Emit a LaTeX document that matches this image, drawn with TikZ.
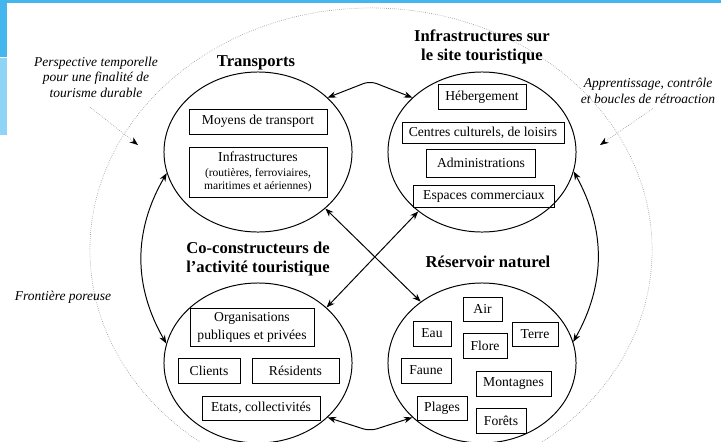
\documentclass[tikz,border=0pt]{standalone}
\usepackage{fontspec}
\setmainfont{Liberation Serif}[Ligatures=TeX]
\newfontfamily\timesfont{Liberation Serif}[Ligatures=TeX]
\usetikzlibrary{shapes.geometric,arrows.meta}
\definecolor{slideblue}{HTML}{45B5EE}
\definecolor{slidelight}{HTML}{8FD3F6}
\tikzset{
  every node/.style={font=\timesfont},
  zone/.style={draw, ellipse, line width=0.7pt, minimum width=4.7cm, minimum height=4cm},
  box/.style 2 args={draw, line width=0.6pt, minimum width=#1cm, minimum height=#2cm, inner sep=1pt, align=center, font=\timesfont\fontsize{9.7}{12.8}\selectfont},
  title/.style={align=center, font=\timesfont\fontsize{11.8}{13}\selectfont\bfseries},
  remark/.style={align=center, font=\timesfont\fontsize{9.6}{11}\selectfont\itshape},
  link/.style={{Stealth[length=6pt,width=4.5pt]}-{Stealth[length=6pt,width=4.5pt]}, line width=0.7pt},
  pointer/.style={-{Stealth[length=6pt,width=4.5pt,color=black]}, gray, densely dotted}
}
\begin{document}
\begin{tikzpicture}[x=0.025cm,y=-0.025cm]
\useasboundingbox (0,0) rectangle (721,441);
\fill[white] (0,0) rectangle (721,441);
\fill[slideblue] (0,0) rectangle (721,3);
\fill[slideblue] (0,0) rectangle (7,57);
\fill[slidelight] (0,58) rectangle (7,135);
% outer border
\node[draw, ellipse, gray, densely dotted, minimum width=14.05cm, minimum height=12.1cm] (frontier) at (371,250) {};
% four zones
\node[zone] (tr) at (258,152) {};
\node[zone] (inf) at (482,152) {};
\node[zone] (co) at (258,363) {};
\node[zone] (res) at (482,363) {};
\node[title] (ttr) at (256,63) {Transports};
\node[title] (tinf) at (482,47) {Infrastructures sur\\le site touristique};
\node[title] (tco) at (258,259) {Co-constructeurs de\\l’activité touristique};
\node[title] (tres) at (488,262) {Réservoir naturel};
% boxes
\node[box={3.45}{0.625}] (mdt) at (258,121.5) {Moyens de transport};
\node[box={3.45}{1.25}] (infra) at (258,172) {Infrastructures\\[-2pt]\fontsize{8.2}{9.5}\selectfont(routières, ferroviaires,\\[-3.5pt]\fontsize{8.2}{9.5}\selectfont maritimes et aériennes)};
\node[box={2.2}{0.625}] (heb) at (482,97) {Hébergement};
\node[box={4.05}{0.525}] (ccl) at (483,133) {Centres culturels, de loisirs};
\node[box={2.725}{0.7}] (adm) at (481,163) {Administrations};
\node[box={3.525}{0.55}] (esp) at (484,196) {Espaces commerciaux};
\node[box={3.1}{0.95}] (org) at (252,327) {Organisations\\publiques et privées};
\node[box={1.55}{0.625}] (cli) at (209,370.5) {Clients};
\node[box={2.175}{0.625}] (resid) at (295.5,370.5) {Résidents};
\node[box={2.95}{0.6}] (eta) at (261,408) {Etats, collectivités};
\node[box={0.975}{0.6}] (air) at (482.5,309) {Air};
\node[box={0.95}{0.625}] (eau) at (432,333.5) {Eau};
\node[box={1.15}{0.6}] (terre) at (535,334) {Terre};
\node[box={1.1}{0.625}] (flore) at (485,345.5) {Flore};
\node[box={1.25}{0.625}] (faune) at (426,370.5) {Faune};
\node[box={1.875}{0.625}] (mont) at (513.5,383.5) {Montagnes};
\node[box={1.25}{0.6}] (plages) at (442,408) {Plages};
\node[box={1.25}{0.625}] (forets) at (501,420.5) {Forêts};
% remarks
\node[remark] (persp) at (96,77) {Perspective temporelle\\pour une finalité de\\tourisme durable};
\node[remark] (appr) at (648,91) {Apprentissage, contrôle\\et boucles de rétroaction};
\node[remark] (front) at (63,297) {Frontière poreuse};
\coordinate (perspend) at (138,145);
\coordinate (apprend) at (600,145);
\draw[pointer] ([shift={(-6,5)}]persp.south) -- (perspend);
\draw[pointer] ([shift={(5,0)}]appr.south) -- (apprend);
% links
\coordinate (peak) at (370,81);
\coordinate (dip) at (370,431);
\draw[link, rounded corners=5pt] (tr.38) -- (peak) -- (inf.142);
\draw[link, rounded corners=5pt] (co.-38) -- (dip) -- (res.218);
\draw[link] (tr.193) to[bend right=30] (co.168);
\draw[link] (inf.-12) to[bend left=29] (res.13);
\draw[link] (tr.-40) -- (res.135);
\draw[link] (inf.223) -- (co.39);
\end{tikzpicture}
\end{document}
